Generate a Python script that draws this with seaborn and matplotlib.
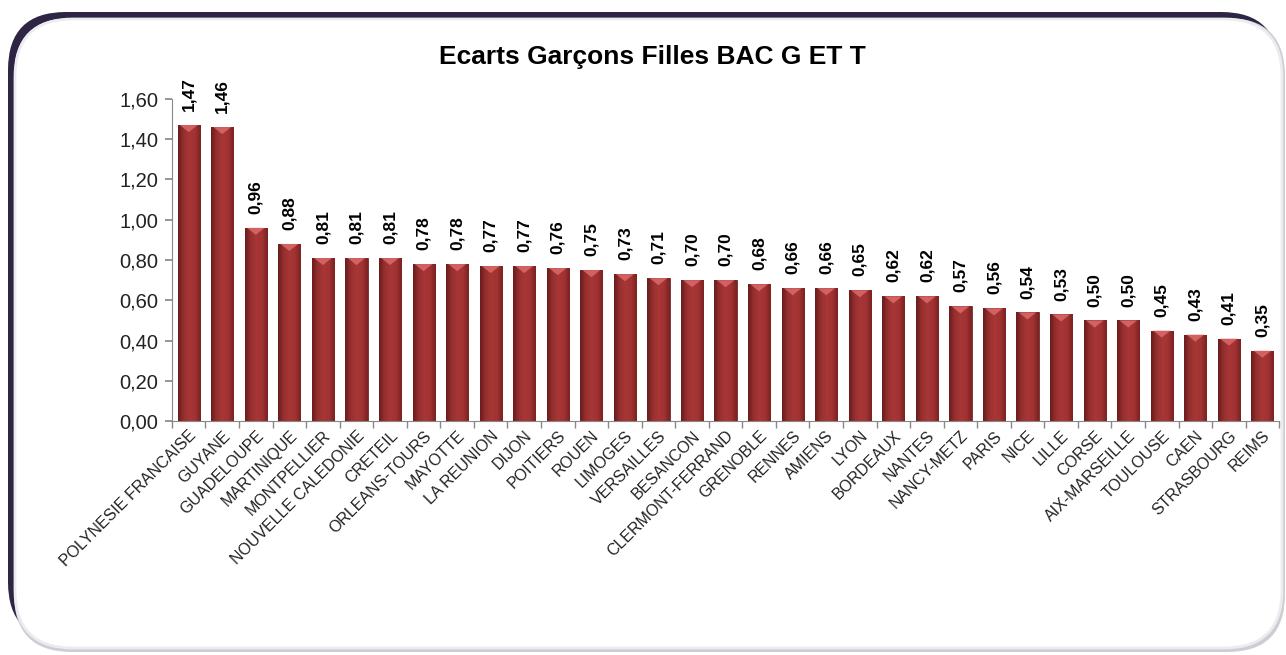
import numpy as np
import pandas as pd
import seaborn as sns
import matplotlib.pyplot as plt
from matplotlib.patches import FancyBboxPatch
from matplotlib.colors import LinearSegmentedColormap

academies = [
    "POLYNESIE FRANCAISE", "GUYANE", "GUADELOUPE", "MARTINIQUE", "MONTPELLIER",
    "NOUVELLE CALEDONIE", "CRETEIL", "ORLEANS-TOURS", "MAYOTTE", "LA REUNION",
    "DIJON", "POITIERS", "ROUEN", "LIMOGES", "VERSAILLES", "BESANCON",
    "CLERMONT-FERRAND", "GRENOBLE", "RENNES", "AMIENS", "LYON", "BORDEAUX",
    "NANTES", "NANCY-METZ", "PARIS", "NICE", "LILLE", "CORSE", "AIX-MARSEILLE",
    "TOULOUSE", "CAEN", "STRASBOURG", "REIMS",
]
ecarts = [
    1.47, 1.46, 0.96, 0.88, 0.81, 0.81, 0.81, 0.78, 0.78, 0.77,
    0.77, 0.76, 0.75, 0.73, 0.71, 0.70, 0.70, 0.68, 0.66, 0.66, 0.65, 0.62,
    0.62, 0.57, 0.56, 0.54, 0.53, 0.50, 0.50, 0.45, 0.43, 0.41, 0.35,
]
y_ticks = [0.0, 0.2, 0.4, 0.6, 0.8, 1.0, 1.2, 1.4, 1.6]

sns.set_theme(style="white")
plt.rcParams["font.family"] = ["Liberation Sans", "DejaVu Sans"]

df = pd.DataFrame({"academie": academies, "ecart": ecarts})

W, H = 1286, 655
fig = plt.figure(figsize=(W / 100, H / 100), dpi=100)
fig.patch.set_facecolor("white")


def px_box(x0, y0, x1, y1, **kw):
    # rectangle arrondi en pixels (origine en haut à gauche)
    return FancyBboxPatch((x0 / W, 1 - y1 / H), (x1 - x0) / W, (y1 - y0) / H,
                          boxstyle="round,pad=0,rounding_size=0.045",
                          mutation_aspect=W / H, transform=fig.transFigure, **kw)


# cadre : bord violet foncé en haut/à gauche, ombre grise en bas/à droite
fig.patches.append(px_box(8, 12, 1279, 640, facecolor="#2e2545", edgecolor="none", zorder=0))
fig.patches.append(px_box(14, 18, 1285, 652, facecolor="#cfcdd4", edgecolor="none", zorder=0.5))
fig.patches.append(px_box(15, 19, 1282, 648, facecolor="white", edgecolor="#ecebef",
                          linewidth=2, zorder=1))

ax = fig.add_axes([0.1337, 0.357, 0.861, 0.492])
ax.set_zorder(2)
ax.patch.set_alpha(0)

sns.barplot(data=df, x="academie", y="ecart", color="#9c2f2f", width=0.66,
            saturation=1, ax=ax)

# dégradé horizontal sur chaque barre
cmap = LinearSegmentedColormap.from_list(
    "bar", ["#6a1c1c", "#983030", "#a83636", "#a23333", "#7a2222"])
grad = np.linspace(0, 1, 64).reshape(1, -1)
for p in ax.patches:
    x0, y0 = p.get_x(), p.get_y()
    w, h = p.get_width(), p.get_height()
    p.set_edgecolor("#5a1717")
    p.set_linewidth(0.5)
    im = ax.imshow(grad, extent=[x0, x0 + w, y0, y0 + h], aspect="auto", cmap=cmap,
                   origin="lower", zorder=p.get_zorder() + 0.1, interpolation="bicubic")
    im.set_clip_path(p)
    # petit reflet en haut
    top = min(0.035, h * 0.5)
    ax.fill([x0 + w * 0.1, x0 + w * 0.9, x0 + w * 0.5], [y0 + h, y0 + h, y0 + h - top],
            color="#e27272", alpha=0.75, zorder=p.get_zorder() + 0.2, linewidth=0)

for i, v in enumerate(ecarts):
    ax.annotate(f"{v:.2f}".replace(".", ","), (i, v), xytext=(0, 10), textcoords="offset points",
                rotation=90, ha="center", va="bottom", fontsize=12.5, fontweight="bold",
                color="black")

ax.set_xlim(-0.5, len(academies) - 0.5)
ax.set_ylim(0, 1.6)
ax.set_yticks(y_ticks)
ax.set_yticklabels([f"{t:.2f}".replace(".", ",") for t in y_ticks], fontsize=14.5, color="#222222")
ax.set_xticks(range(len(academies)))
ax.set_xticklabels(academies, rotation=45, ha="right", rotation_mode="anchor", fontsize=11.5,
                   color="#222222")
ax.tick_params(axis="x", length=0, pad=5)
ax.tick_params(axis="y", length=5, color="#888888", left=True, pad=5)
ax.set_xticks(np.arange(-0.5, len(academies), 1), minor=True)
ax.tick_params(axis="x", which="minor", length=5, color="#888888", bottom=True)
ax.set_xlabel("")
ax.set_ylabel("")

for side in ["top", "right"]:
    ax.spines[side].set_visible(False)
for side in ["left", "bottom"]:
    ax.spines[side].set_color("#888888")
    ax.spines[side].set_linewidth(0.8)

fig.text(0.507, 0.913, "Ecarts Garçons Filles BAC G ET T", ha="center", va="center",
         fontsize=19, fontweight="bold", color="black", zorder=3)

fig.savefig("out.png", dpi=100)
